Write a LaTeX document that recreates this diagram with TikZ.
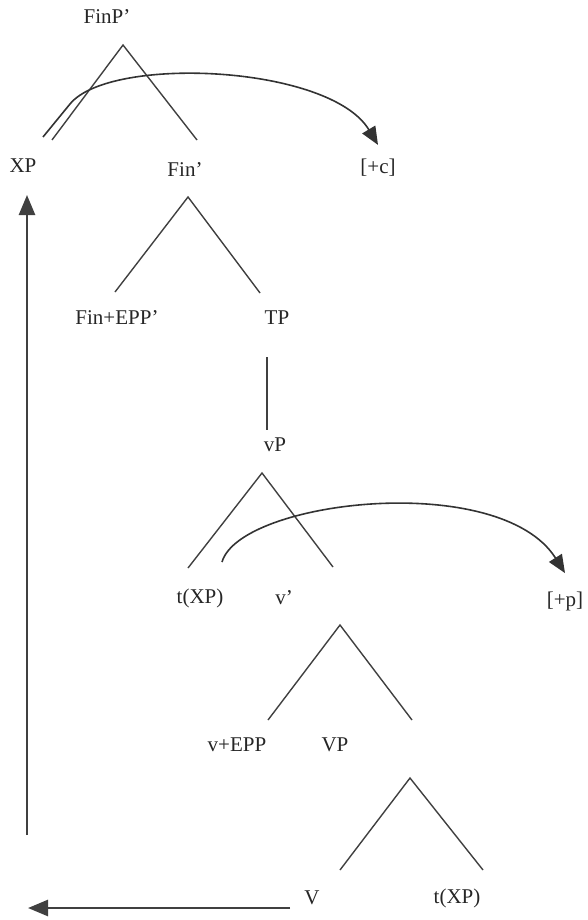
\documentclass[tikz,border=0pt]{standalone}
\usepackage{fontspec}
\setmainfont{Liberation Serif}
\usetikzlibrary{arrows.meta}

\begin{document}
\begin{tikzpicture}[
  x=0.5pt, y=-0.5pt,
  lbl/.style={inner sep=1pt, font=\fontsize{10.5}{12}\selectfont, text=black!85},
  branch/.style={line width=0.7pt, black!75},
  mv/.style={-{Triangle[length=9pt,width=7.5pt]}, line width=0.8pt, black!80},
  mvlong/.style={-{Triangle[length=10pt,width=8pt]}, line width=1.3pt, black!75}
]
  \useasboundingbox (0,0) rectangle (588,920);

  \node[lbl] (finp) at (107,17) {FinP'};
  \node[lbl] (xp) at (23,166) {XP};
  \node[lbl] (fin1) at (185,170) {Fin'};
  \node[lbl] (plusc) at (378,168) {[+c]};
  \node[lbl] (finepp) at (117,318) {Fin+EPP'};
  \node[lbl] (tp) at (277,318) {TP};
  \node[lbl] (vp) at (275,445) {vP};
  \node[lbl] (txp1) at (200,598) {t(XP)};
  \node[lbl] (v1) at (284,598) {v'};
  \node[lbl] (plusp) at (565,601) {[+p]};
  \node[lbl] (vepp) at (237,745) {v+EPP};
  \node[lbl] (bigvp) at (335,745) {VP};
  \node[lbl] (bigv) at (312,898) {V};
  \node[lbl] (txp2) at (457,898) {t(XP)};

  \draw[branch] (52,140) -- (123,45) -- (197,140);
  \draw[branch] (115,292) -- (188,197) -- (260,293);
  \draw[branch] (267,357) -- (267,430);
  \draw[branch] (188,568) -- (262,473) -- (333,567);
  \draw[branch] (268,720) -- (340,625) -- (412,720);
  \draw[branch] (340,870) -- (410,778) -- (483,870);

  \coordinate (xp-trace) at (43,137);
  \coordinate (txp-trace) at (222,562);
  \coordinate (up-foot) at (27,835);
  \coordinate (up-head) at (27,195);
  \coordinate (v-start) at (290,908);
  \coordinate (v-head) at (28,908);

  \draw[mv] (xp-trace) -- (70,104) .. controls (110,55) and (330,65) .. ([yshift=6pt]plusc.north);
  \draw[mv] (txp-trace) .. controls (240,500) and (500,470) .. ([yshift=8pt]plusp.north);
  \draw[mvlong] (up-foot) -- (up-head);
  \draw[mvlong] (v-start) -- (v-head);
\end{tikzpicture}
\end{document}
